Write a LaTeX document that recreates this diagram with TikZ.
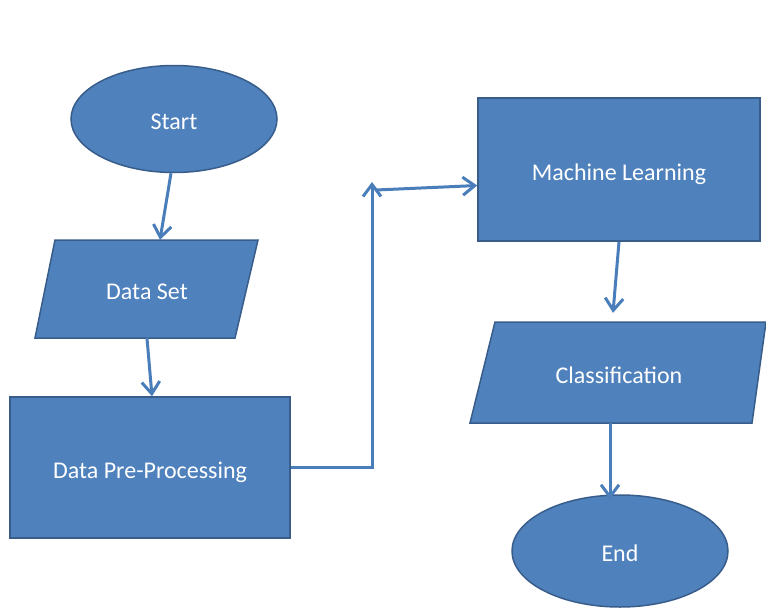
\documentclass[tikz,border=0pt]{standalone}
\usepackage{fontspec}
\setmainfont{Carlito}
\usetikzlibrary{arrows.meta,shapes.geometric}

\definecolor{shapefill}{RGB}{79,129,189}
\definecolor{shapeline}{RGB}{56,93,138}
\definecolor{linkblue}{RGB}{74,126,187}

\tikzset{
  shapestyle/.style={fill=shapefill, draw=shapeline, line width=1.5pt},
  wtext/.style={text=white, font=\fontsize{24}{28}\selectfont, inner sep=0pt,
    text height=21pt, text depth=0pt},
  ellnode/.style={shapestyle, wtext, ellipse},
  boxnode/.style={shapestyle, wtext, rectangle},
  arr/.style={draw=linkblue, line width=3pt,
    -{Straight Barb[length=12pt,width=18pt]}},
}

\begin{document}
\begin{tikzpicture}[x=1pt, y=-1pt]
  % page area
  \fill[white] (0,0) rectangle (766,608);
  \useasboundingbox (0,0) rectangle (766,608);

  % terminals
  \node[ellnode, minimum width=206pt, minimum height=107pt] (start) at (174,119) {Start};
  \node[ellnode, minimum width=216pt, minimum height=112pt] (end) at (620,551) {End};

  % process boxes
  \node[boxnode, minimum width=280pt, minimum height=141pt] (pre) at (150,467.5) {Data Pre-Processing};
  \node[boxnode, minimum width=282pt, minimum height=143pt] (ml) at (619,169.5) {Machine Learning};

  % input/output shapes
  \filldraw[shapestyle] (35,338) -- (235,338) -- (258,240) -- (55,240) -- cycle;
  \node[wtext, minimum width=223pt, minimum height=98pt] (ds) at (147,289) {Data Set};
  \filldraw[shapestyle] (470,423) -- (752,423) -- (766,322) -- (495,322) -- cycle;
  \node[wtext, minimum width=296pt, minimum height=101pt] (cls) at (619,372.5) {Classification};

  % connectors
  \coordinate (up) at (372,182);
  \coordinate (turn) at (376,190);
  \draw[arr] ([xshift=-3pt]start.south) -- ([xshift=13pt]ds.north);
  \draw[arr] (ds.south) -- ([xshift=2pt]pre.north);
  \draw[arr] (pre.east) -| (up);
  \draw[arr] (turn) -- ([yshift=-16pt]ml.west);
  \draw[arr] (ml.south) -- ([xshift=-6pt,yshift=9pt]cls.north);
  \draw[arr] ([xshift=-9pt]cls.south) -- ([xshift=-10pt,yshift=-5pt]end.north);
\end{tikzpicture}
\end{document}
